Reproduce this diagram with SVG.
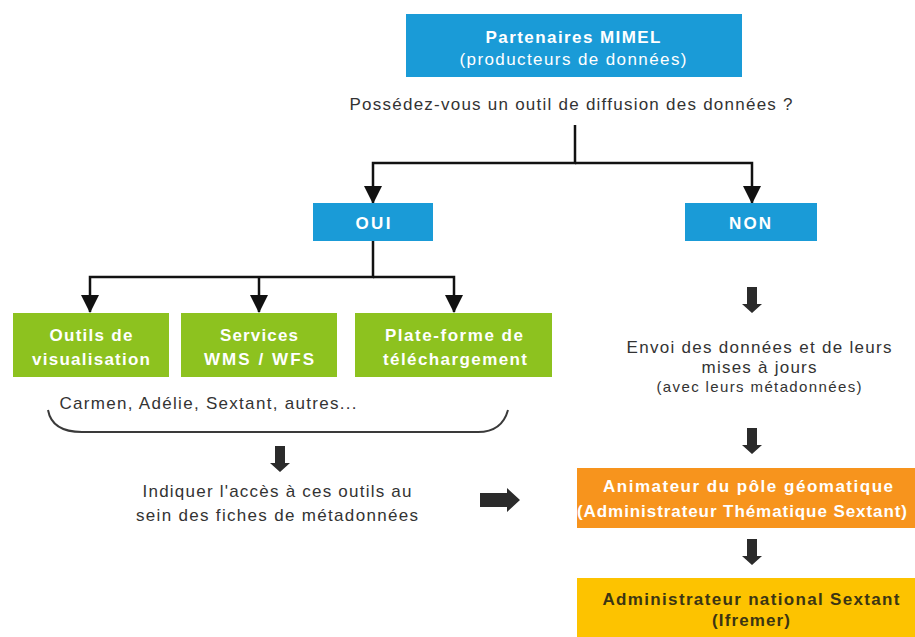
<svg xmlns="http://www.w3.org/2000/svg" width="915" height="637" viewBox="0 0 915 637">
<style>
  text { font-family: "Liberation Sans", Arial, sans-serif; text-anchor: middle; }
  .b { font-weight: bold; font-size: 17px; fill: #ffffff; }
  .n { font-weight: normal; }
  .r { font-size: 17px; fill: #333333; }
  .s { font-size: 15px; fill: #333333; }
  .dk { font-weight: bold; font-size: 17px; fill: #3b3513; }
  .blue { fill: #1a9bd7; }
  .green { fill: #8dc21f; }
  .orange { fill: #f7941d; }
  .yellow { fill: #fdc300; }
  .line { fill: none; stroke: #111111; stroke-width: 2.5; }
  .brace { fill: none; stroke: #3a3a3a; stroke-width: 2; }
  .blk { fill: #2b2b2b; }
</style>
<defs>
  <marker id="ah" markerUnits="userSpaceOnUse" markerWidth="18" markerHeight="18" viewBox="0 0 18 18" refX="17" refY="9" orient="auto">
    <path d="M0,0 L18,9 L0,18 z" fill="#111111"/>
  </marker>
  <path id="downArrow" d="M-5,0 H5 V17 H10 L0,26 L-10,17 H-5 z"/>
</defs>
<rect width="915" height="637" fill="#ffffff"/>

<g id="connectors">
  <path class="line" d="M575,125 V163 H373 V203" marker-end="url(#ah)"/>
  <path class="line" d="M575,163 H752 V203" marker-end="url(#ah)"/>
  <path class="line" d="M373,241 V277 H90 V312" marker-end="url(#ah)"/>
  <path class="line" d="M373,277 H454 V312" marker-end="url(#ah)"/>
  <path class="line" d="M259,277 V312" marker-end="url(#ah)"/>
  <path class="brace" d="M48,410 Q52,432 82,432 H478 Q502,432 508,410"/>
  <use href="#downArrow" class="blk" x="280" y="446"/>
  <use href="#downArrow" class="blk" x="752" y="287"/>
  <use href="#downArrow" class="blk" x="752" y="428"/>
  <use href="#downArrow" class="blk" x="752" y="539"/>
  <path class="blk" d="M480,493 H507 V488 L520,500 L507,512 V507 H480 z"/>
</g>

<g id="partenaires">
  <rect class="blue" x="406" y="14" width="336" height="63"/>
  <text class="b" x="573" y="43" textLength="175" lengthAdjust="spacing">Partenaires MIMEL</text>
  <text class="b n" x="573" y="65" textLength="227" lengthAdjust="spacing">(producteurs de données)</text>
</g>

<g id="question">
  <text class="r" x="571" y="110" textLength="443" lengthAdjust="spacing">Possédez-vous un outil de diffusion des données ?</text>
</g>

<g id="oui">
  <rect class="blue" x="313" y="203" width="120" height="38"/>
  <text class="b" x="373" y="229" textLength="35" lengthAdjust="spacing">OUI</text>
</g>

<g id="non">
  <rect class="blue" x="685" y="203" width="132" height="38"/>
  <text class="b" x="750" y="229" textLength="42" lengthAdjust="spacing">NON</text>
</g>

<g id="visualisation">
  <rect class="green" x="13" y="313" width="156" height="64"/>
  <text class="b" x="91" y="341" textLength="83" lengthAdjust="spacing">Outils de</text>
  <text class="b" x="91" y="365" textLength="118" lengthAdjust="spacing">visualisation</text>
</g>

<g id="services">
  <rect class="green" x="181" y="313" width="156" height="64"/>
  <text class="b" x="259" y="341" textLength="78" lengthAdjust="spacing">Services</text>
  <text class="b" x="259" y="365" textLength="110" lengthAdjust="spacing">WMS / WFS</text>
</g>

<g id="plateforme">
  <rect class="green" x="355" y="313" width="197" height="64"/>
  <text class="b" x="454" y="341" textLength="138" lengthAdjust="spacing">Plate-forme de</text>
  <text class="b" x="455" y="365" textLength="144" lengthAdjust="spacing">téléchargement</text>
</g>

<g id="outils-liste">
  <text class="r" x="208" y="409" textLength="297" lengthAdjust="spacing">Carmen, Adélie, Sextant, autres...</text>
</g>

<g id="indiquer">
  <text class="r" x="277" y="497" textLength="269" lengthAdjust="spacing">Indiquer l'accès à ces outils au</text>
  <text class="r" x="277" y="521" textLength="282" lengthAdjust="spacing">sein des fiches de métadonnées</text>
</g>

<g id="envoi">
  <text class="r" x="759" y="353" textLength="265" lengthAdjust="spacing">Envoi des données et de leurs</text>
  <text class="r" x="759" y="373" textLength="115" lengthAdjust="spacing">mises à jours</text>
  <text class="s" x="759" y="392" textLength="205" lengthAdjust="spacing">(avec leurs métadonnées)</text>
</g>

<g id="animateur">
  <rect class="orange" x="577" y="468" width="338" height="60"/>
  <text class="b" x="748" y="492" textLength="290" lengthAdjust="spacing">Animateur du pôle géomatique</text>
  <text class="b" x="742" y="517" textLength="330" lengthAdjust="spacing">(Administrateur Thématique Sextant)</text>
</g>

<g id="administrateur">
  <rect class="yellow" x="577" y="578" width="338" height="59"/>
  <text class="dk" x="751" y="605" textLength="297" lengthAdjust="spacing">Administrateur national Sextant</text>
  <text class="dk" x="751" y="626" textLength="78" lengthAdjust="spacing">(Ifremer)</text>
</g>
</svg>
